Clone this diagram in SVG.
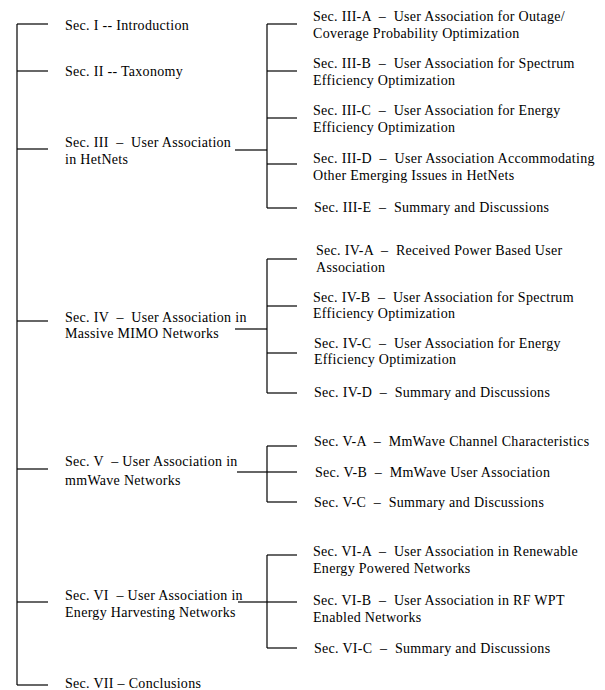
<svg xmlns="http://www.w3.org/2000/svg" width="605" height="690" viewBox="0 0 605 690" xml:space="preserve">
<style>
text{font-family:"Liberation Serif","Times New Roman",serif;font-size:14px;letter-spacing:0.3px;fill:#000;white-space:pre}
.c line{stroke:#000;stroke-width:1.2}
</style>
<rect width="605" height="690" fill="#fff"/>
<g class="c" id="connectors">
<line x1="17" y1="24" x2="17" y2="685"/>
<line x1="17" y1="24" x2="48" y2="24"/>
<line x1="17" y1="71" x2="48" y2="71"/>
<line x1="17" y1="149" x2="48" y2="149"/>
<line x1="17" y1="321" x2="48" y2="321"/>
<line x1="17" y1="469" x2="48" y2="469"/>
<line x1="17" y1="602" x2="48" y2="602"/>
<line x1="17" y1="685" x2="48" y2="685"/>
<line x1="235" y1="150" x2="267" y2="150"/>
<line x1="267" y1="24" x2="267" y2="208"/>
<line x1="267" y1="24" x2="297" y2="24"/>
<line x1="267" y1="71" x2="297" y2="71"/>
<line x1="267" y1="118" x2="297" y2="118"/>
<line x1="267" y1="164" x2="297" y2="164"/>
<line x1="267" y1="208" x2="297" y2="208"/>
<line x1="235" y1="329" x2="267" y2="329"/>
<line x1="267" y1="259" x2="267" y2="393"/>
<line x1="267" y1="259" x2="297" y2="259"/>
<line x1="267" y1="306" x2="297" y2="306"/>
<line x1="267" y1="353" x2="297" y2="353"/>
<line x1="267" y1="393" x2="297" y2="393"/>
<line x1="237" y1="472" x2="267" y2="472"/>
<line x1="267" y1="446" x2="267" y2="502"/>
<line x1="267" y1="446" x2="297" y2="446"/>
<line x1="267" y1="472" x2="297" y2="472"/>
<line x1="267" y1="502" x2="297" y2="502"/>
<line x1="238" y1="602" x2="267" y2="602"/>
<line x1="267" y1="555" x2="267" y2="648"/>
<line x1="267" y1="555" x2="297" y2="555"/>
<line x1="267" y1="602" x2="297" y2="602"/>
<line x1="267" y1="648" x2="297" y2="648"/>
</g>
<g id="sec1"><text x="65" y="30">Sec. I -- Introduction</text></g>
<g id="sec2"><text x="65" y="76">Sec. II -- Taxonomy</text></g>
<g id="sec3"><text x="65" y="147">Sec. III  –  User Association</text><text x="65" y="164">in HetNets</text></g>
<g id="sec3a"><text x="313" y="21">Sec. III-A  –  User Association for Outage/</text><text x="313" y="38">Coverage Probability Optimization</text></g>
<g id="sec3b"><text x="313" y="68">Sec. III-B  –  User Association for Spectrum</text><text x="313" y="85">Efficiency Optimization</text></g>
<g id="sec3c"><text x="313" y="115">Sec. III-C  –  User Association for Energy</text><text x="313" y="132">Efficiency Optimization</text></g>
<g id="sec3d"><text x="313" y="163">Sec. III-D  –  User Association Accommodating</text><text x="313" y="180">Other Emerging Issues in HetNets</text></g>
<g id="sec3e"><text x="314" y="212">Sec. III-E  –  Summary and Discussions</text></g>
<g id="sec4"><text x="65" y="322">Sec. IV  –  User Association in</text><text x="65" y="338">Massive MIMO Networks</text></g>
<g id="sec4a"><text x="316" y="255">Sec. IV-A  –  Received Power Based User</text><text x="316" y="272">Association</text></g>
<g id="sec4b"><text x="313" y="302">Sec. IV-B  –  User Association for Spectrum</text><text x="313" y="318">Efficiency Optimization</text></g>
<g id="sec4c"><text x="314" y="348">Sec. IV-C  –  User Association for Energy</text><text x="314" y="364">Efficiency Optimization</text></g>
<g id="sec4d"><text x="314" y="397">Sec. IV-D  –  Summary and Discussions</text></g>
<g id="sec5"><text x="65" y="466">Sec. V  – User Association in</text><text x="65" y="485">mmWave Networks</text></g>
<g id="sec5a"><text x="314" y="446">Sec. V-A  –  MmWave Channel Characteristics</text></g>
<g id="sec5b"><text x="315" y="477">Sec. V-B  –  MmWave User Association</text></g>
<g id="sec5c"><text x="314" y="507">Sec. V-C  –  Summary and Discussions</text></g>
<g id="sec6"><text x="65" y="600">Sec. VI  – User Association in</text><text x="65" y="617">Energy Harvesting Networks</text></g>
<g id="sec6a"><text x="313" y="556">Sec. VI-A  –  User Association in Renewable</text><text x="313" y="573">Energy Powered Networks</text></g>
<g id="sec6b"><text x="313" y="605">Sec. VI-B  –  User Association in RF WPT</text><text x="313" y="622">Enabled Networks</text></g>
<g id="sec6c"><text x="314" y="653">Sec. VI-C  –  Summary and Discussions</text></g>
<g id="sec7"><text x="65" y="688">Sec. VII – Conclusions</text></g>
</svg>
